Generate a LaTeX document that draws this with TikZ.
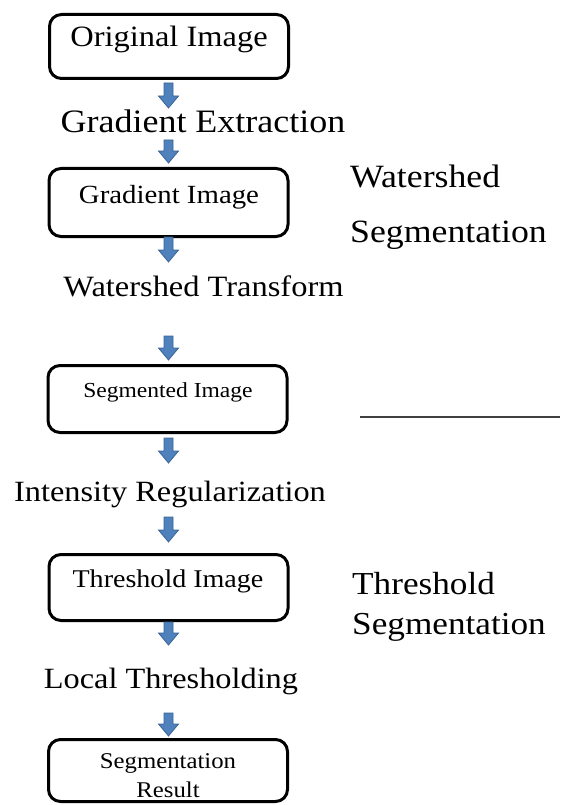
\documentclass[tikz,border=0pt]{standalone}
\usepackage{fontspec}
\setmainfont{Liberation Serif}[FakeStretch=1.1]
\usetikzlibrary{calc}

\definecolor{arrowblue}{HTML}{4F81BD}
\definecolor{arrowedge}{HTML}{3A6496}
\definecolor{sepgray}{HTML}{404040}

\newcommand{\fsz}[1]{\fontsize{#1}{#1}\selectfont}

\tikzset{
  stagebox/.style={draw=black, line width=3pt, rounded corners=12pt,
                   minimum width=239pt, inner sep=0pt},
  lbl/.style={anchor=base, inner sep=0pt, text=black},
  side/.style={anchor=base west, inner sep=0pt, text=black},
  flowfill/.style={fill=arrowblue, draw=arrowedge, line width=0.8pt, line join=miter},
  sepline/.style={draw=sepgray, line width=1.5pt},
}

% block arrow pointing down from #1 (tail) to #2 (tip)
\newcommand{\blockarrow}[2]{%
  \path[flowfill] let \p1=(#1), \p2=(#2) in
    (\x1-4.5pt,\y1) -- (\x1+4.5pt,\y1) -- (\x1+4.5pt,\y2+12pt) -- (\x1+10pt,\y2+12pt)
    -- (\x1,\y2) -- (\x1-10pt,\y2+12pt) -- (\x1-4.5pt,\y2+12pt) -- cycle;}

\begin{document}
\begin{tikzpicture}[x=1pt,y=-1pt]
\useasboundingbox (0,0) rectangle (560,805);

% stage boxes
\node[stagebox, minimum height=64pt] (b1) at (169,46.5) {};
\node[stagebox, minimum height=68pt] (b2) at (168.5,202.5) {};
\node[stagebox, minimum height=67pt] (b3) at (167.5,399) {};
\node[stagebox, minimum height=66pt] (b4) at (168.5,587.5) {};
\node[stagebox, minimum height=62pt] (b5) at (168,770.5) {};

% texts of the stages and steps
\node[lbl, font={\fsz{29.5}}] (t1) at (169,47) {Original Image};
\node[lbl, font={\fsz{32.7}}] (t2) at (203,133) {Gradient Extraction};
\node[lbl, font={\fsz{26.2}}] (t3) at (169,203) {Gradient Image};
\node[lbl, font={\fsz{29.5}}] (t4) at (203.5,296) {Watershed Transform};
\node[lbl, font={\fsz{21.4}}] (t5) at (168,397) {Segmented Image};
\node[lbl, font={\fsz{29.4}}] (t6) at (170,501) {Intensity Regularization};
\node[lbl, font={\fsz{25.5}}] (t7) at (168,587) {Threshold Image};
\node[lbl, font={\fsz{29.4}}] (t8) at (171,688) {Local Thresholding};
\node[lbl, font={\fsz{22.5}}] (t9) at (168,768) {Segmentation};
\node[lbl, font={\fsz{22.5}}] (t10) at (168,797) {Result};

% phase captions
\node[side, font={\fsz{32.5}}] (w1) at (350,188) {Watershed};
\node[side, font={\fsz{32.5}}] (w2) at (350,242) {Segmentation};
\node[side, font={\fsz{32}}] (h1) at (352,594) {Threshold};
\node[side, font={\fsz{32}}] (h2) at (352,634) {Segmentation};

% separator between the two phases
\coordinate (s1) at (360,417);
\coordinate (s2) at (560,417);
\draw[sepline] (s1) -- (s2);

% flow arrows
\coordinate (a1s) at (168.5,83);  \coordinate (a1e) at (168.5,108);
\coordinate (a2s) at (168.5,140); \coordinate (a2e) at (168.5,163);
\coordinate (a3s) at (168.5,237); \coordinate (a3e) at (168.5,262);
\coordinate (a4s) at (168.5,336); \coordinate (a4e) at (168.5,360);
\coordinate (a5s) at (168.5,438); \coordinate (a5e) at (168.5,463);
\coordinate (a6s) at (168.5,517); \coordinate (a6e) at (168.5,542);
\coordinate (a7s) at (168.5,622); \coordinate (a7e) at (168.5,645);
\coordinate (a8s) at (168.5,713); \coordinate (a8e) at (168.5,736);
\blockarrow{a1s}{a1e}
\blockarrow{a2s}{a2e}
\blockarrow{a3s}{a3e}
\blockarrow{a4s}{a4e}
\blockarrow{a5s}{a5e}
\blockarrow{a6s}{a6e}
\blockarrow{a7s}{a7e}
\blockarrow{a8s}{a8e}
\end{tikzpicture}
\end{document}
